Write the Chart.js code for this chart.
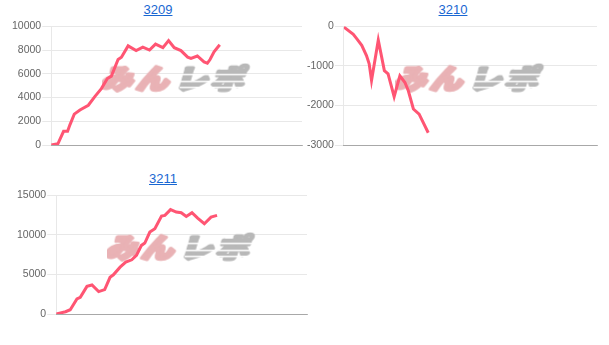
<!DOCTYPE html>
<html>
<head>
<meta charset="utf-8">
<script src="https://cdn.jsdelivr.net/npm/chart.js@4.4.1/dist/chart.umd.min.js"></script>
<style>
    body { margin: 0; background: #fff; width: 609px; height: 345px; overflow: hidden; font-family: "Liberation Sans", Arial, sans-serif; }
    .box { position: absolute; width: 294px; }
    .box a { display: block; text-align: center; font-size: 13px; color: #1967d2; text-decoration: underline; height: 18px; line-height: 18px; }
    .plot { position: relative; height: 134px; }
</style>
</head>
<body>

<div class="box" style="left:11px; top:1px;"><a href="#">3209</a><div class="plot"><canvas id="chart3209"></canvas></div></div>
<div class="box" style="left:306px; top:1px;"><a href="#">3210</a><div class="plot"><canvas id="chart3210"></canvas></div></div>
<div class="box" style="left:16px; top:170px;"><a href="#">3211</a><div class="plot"><canvas id="chart3211"></canvas></div></div>

<script>
/* ==========================================
   machine graphs (x = game index, y = diff)
========================================== */

const X_MAX = 75;

// 3209
const games3209 = [0, 2, 3.7, 4.9, 5.6, 6.9, 8.6, 11.1, 13.1, 15, 16.8, 18, 20, 21, 23, 25.4, 27.4, 29.4, 31.2, 33.4, 35.1, 36.8, 38.8, 40.8, 41.8, 43.7, 45.7, 46.7, 47.5, 48.7, 50.4];
const diff3209  = [0, 100, 1150, 1150, 1700, 2600, 2950, 3350, 4100, 4750, 5600, 5800, 7200, 7400, 8350, 7950, 8250, 8000, 8500, 8200, 8800, 8200, 7950, 7400, 7300, 7500, 7000, 6900, 7200, 7850, 8450];
const ticks3209 = [0, 10000, 2000];

// 3210
const games3210 = [0, 2.8, 3.8, 5.3, 6.7, 7.5, 8.2, 10.2, 12, 13.1, 14.9, 16.6, 18.1, 19.1, 20.6, 22.3, 25];
const diff3210  = [-20, -200, -310, -480, -740, -950, -1370, -350, -1120, -1200, -1780, -1250, -1420, -1630, -2090, -2220, -2690];
const ticks3210 = [-3000, 0, 1000];

// 3211
const games3211 = [0, 2.8, 4.2, 6.2, 7.2, 9.2, 10.7, 12.7, 14.5, 16.1, 17.1, 19.1, 20.8, 22.6, 24, 25.5, 26.5, 28, 29.5, 31.5, 32.5, 34.2, 35.9, 37.4, 38.9, 40.6, 42.3, 44.3, 46.3, 48.1];
const diff3211  = [0, 290, 540, 1900, 2100, 3490, 3670, 2830, 3080, 4640, 4950, 5920, 6550, 6850, 7400, 8670, 8960, 10350, 10780, 12370, 12460, 13190, 12880, 12800, 12330, 12800, 12120, 11410, 12250, 12460];
const ticks3211 = [0, 15000, 5000];


// ---------------------------
// watermark logo
// ---------------------------

const logo = document.createElement("canvas");
logo.width = 150;
logo.height = 32;

const lc = logo.getContext("2d");
lc.font = "900 27px 'Noto Sans CJK JP'";
lc.textBaseline = "middle";
lc.textAlign = "center";
lc.lineJoin = "round";
lc.lineWidth = 3.5;

const logoChars  = ["み", "ん", "レ", "ポ"];
const logoColors = ["#e9b2b5", "#e9b2b5", "#b8b8b8", "#b8b8b8"];

logoChars.forEach(function(ch, i){

    lc.setTransform(1.2, 0, -0.3, 1, 22 + i * 36 + (i > 1 ? 3 : 0), 0);
    lc.fillStyle = logoColors[i];
    lc.strokeStyle = logoColors[i];
    lc.fillText(ch, 0, 16);
    lc.strokeText(ch, 0, 16);

});

// speed lines through the grey part
lc.setTransform(1, 0, 0, 1, 0, 0);
lc.globalCompositeOperation = "destination-out";
lc.fillRect(78, 11, 72, 1.5);
lc.fillRect(78, 18, 72, 1.5);
lc.fillRect(78, 24, 72, 1.5);

const watermark = {

    id: "watermark",

    beforeDatasetsDraw(chart) {

        const a = chart.chartArea;

        chart.ctx.drawImage(
            logo,
            (a.left + a.right) / 2 - logo.width / 2,
            (a.top + a.bottom) / 2 - 7 - logo.height / 2
        );

    }

};


// ---------------------------
// chart builder
// ---------------------------

function makeChart(id, games, diff, ticks) {

    new Chart(document.getElementById(id), {

        type: "line",

        data: {

            datasets: [{

                data: games.map(function(g, i){ return { x: g, y: diff[i] }; }),

                borderColor: "#ff5573",
                borderWidth: 3,
                pointRadius: 0,
                tension: 0,
                fill: false

            }]

        },

        options: {

            responsive: true,
            maintainAspectRatio: false,
            animation: false,

            layout: {

                padding: { right: 3 }

            },

            plugins: {

                legend: { display: false },
                tooltip: { enabled: false }

            },

            scales: {

                x: {

                    type: "linear",
                    min: 0,
                    max: X_MAX,
                    ticks: { display: false },
                    grid: { display: false },
                    border: { color: "rgba(0,0,0,0.28)" }

                },

                y: {

                    min: ticks[0],
                    max: ticks[1],

                    ticks: {

                        stepSize: ticks[2],
                        padding: 1,
                        color: "#666",
                        font: { size: 10.5, family: "'Liberation Sans', Arial, sans-serif" },

                        callback: function(value){

                            return String(value);

                        }

                    },

                    grid: { color: "rgba(0,0,0,0.09)", tickLength: 9 },
                    border: { color: "rgba(0,0,0,0.09)" }

                }

            }

        },

        plugins: [watermark]

    });

}

makeChart("chart3209", games3209, diff3209, ticks3209);
makeChart("chart3210", games3210, diff3210, ticks3210);
makeChart("chart3211", games3211, diff3211, ticks3211);
</script>
</body>
</html>
